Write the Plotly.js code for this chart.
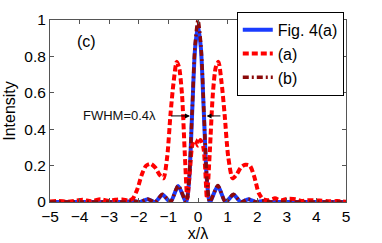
<!DOCTYPE html>
<html>
<head>
<meta charset="utf-8">
<script src="https://cdn.plot.ly/plotly-3.0.1.min.js"></script>
<style>html,body{margin:0;padding:0;background:#fff;}#chart{width:382px;height:243px;}</style>
</head>
<body>
<div id="chart"></div>
<script>
// Fig. 4(a) (blue solid) and (b) (dark red dash-dot) share sample positions
var xFig4a = [-5, -4, -3, -2.45, -2.2, -1.95, -1.7, -1.45, -1.2, -0.93, -0.67, -0.4, -0.3, -0.2, -0.1, 0, 0.1, 0.2, 0.3, 0.4, 0.67, 0.93, 1.2, 1.45, 1.7, 1.95, 2.2, 2.45, 3, 4, 5];
var yFig4a = [0, 0, 0, 0, 0.006, 0, 0.015, 0, 0.04, 0, 0.088, 0, 0.12, 0.48, 0.84, 0.97, 0.84, 0.48, 0.12, 0, 0.088, 0, 0.04, 0, 0.015, 0, 0.006, 0, 0, 0, 0];
var xB = [-5, -4, -3, -2.45, -2.2, -1.95, -1.7, -1.45, -1.2, -0.93, -0.67, -0.4, -0.3, -0.2, -0.1, 0, 0.1, 0.2, 0.3, 0.4, 0.67, 0.93, 1.2, 1.45, 1.7, 1.95, 2.2, 2.45, 3, 4, 5];
var yB = [0, 0, 0, 0, 0.006, 0, 0.016, 0, 0.042, 0, 0.09, 0, 0.13, 0.49, 0.86, 1.0, 0.86, 0.49, 0.13, 0, 0.09, 0, 0.042, 0, 0.016, 0, 0.006, 0, 0, 0, 0];
var xA = [-5, -4.7, -4.4, -4.1, -3.9, -3.6, -3.3, -3.0, -2.8, -2.55, -2.35, -2.2, -2.05, -1.9, -1.75, -1.6, -1.45, -1.3, -1.17, -1.04, -0.93, -0.83, -0.72, -0.64, -0.54, -0.45, -0.36, -0.27, -0.18, -0.08, 0, 0.08, 0.18, 0.24, 0.3, 0.4, 0.5, 0.6, 0.69, 0.8, 0.9, 1.02, 1.17, 1.3, 1.45, 1.6, 1.75, 1.9, 2.05, 2.2, 2.4, 2.6, 2.8, 3.0, 3.3, 3.5, 3.7, 4.1, 4.4, 4.7, 5];
var yA = [0.003, 0.006, 0.002, 0.008, 0.012, 0.004, 0.015, 0.006, 0.012, 0.014, 0.008, 0.02, 0.07, 0.15, 0.2, 0.21, 0.19, 0.15, 0.13, 0.25, 0.48, 0.65, 0.77, 0.74, 0.59, 0.28, 0.02, 0.18, 0.32, 0.34, 0.31, 0.34, 0.3, 0.19, 0.02, 0.28, 0.59, 0.74, 0.77, 0.65, 0.48, 0.25, 0.13, 0.15, 0.19, 0.205, 0.2, 0.14, 0.05, 0.015, 0.01, 0.02, 0.008, 0.017, 0.015, 0.006, 0.01, 0.008, 0.004, 0.005, 0.002];
var xTicks = [-5, -4, -3, -2, -1, 0, 1, 2, 3, 4, 5];
var yTicks = [0, 0.2, 0.4, 0.6, 0.8, 1];
var yTickText = ["0", "0.2", "0.4", "0.6", "0.8", "1"];
var names = ["Fig. 4(a)", "(a)", "(b)"];

var traces = [
  {x: xFig4a, y: yFig4a, name: names[0], mode: 'lines', line: {color: '#1a3cff', width: 4, shape: 'spline', smoothing: 0.7}},
  {x: xA, y: yA, name: names[1], mode: 'lines', line: {color: '#ff0000', width: 4, dash: '6px,3px', shape: 'spline', smoothing: 0.7}},
  {x: xB, y: yB, name: names[2], mode: 'lines', line: {color: '#8b0a0a', width: 3.5, dash: '6px,3px,2px,3px', shape: 'spline', smoothing: 0.7}}
];
var fam = 'Liberation Sans, Arial, sans-serif';
var axisCommon = {showline: true, mirror: 'ticks', linecolor: '#555', linewidth: 1, ticks: 'inside', ticklen: 4, tickcolor: '#555', showgrid: false, zeroline: false, tickfont: {family: fam, size: 15.5, color: '#000'}};
var layout = {
  width: 382, height: 243,
  margin: {l: 49.5, r: 36, t: 18, b: 41},
  paper_bgcolor: '#fff', plot_bgcolor: '#fff',
  showlegend: true,
  legend: {x: 0.631, y: 1.045, xanchor: 'left', yanchor: 'top', bgcolor: '#fff', bordercolor: '#000', borderwidth: 1, font: {family: fam, size: 16, color: '#000'}, itemwidth: 30, tracegroupgap: 0},
  xaxis: Object.assign({}, axisCommon, {range: [-5, 5], tickvals: xTicks, title: {text: 'x/λ', font: {family: fam, size: 16, color: '#000'}, standoff: 2}}),
  yaxis: Object.assign({}, axisCommon, {range: [0, 1], tickvals: yTicks, ticktext: yTickText, title: {text: 'Intensity', font: {family: fam, size: 16, color: '#000'}, standoff: 4}}),
  annotations: [
    {x: -3.77, y: 0.88, xref: 'x', yref: 'y', text: '(c)', showarrow: false, font: {family: fam, size: 16, color: '#000'}},
    {x: -2.64, y: 0.473, xref: 'x', yref: 'y', text: 'FWHM=0.4λ', showarrow: false, font: {family: fam, size: 13, color: '#111'}},
    {x: -0.27, y: 0.473, ax: -0.96, ay: 0.473, xref: 'x', yref: 'y', axref: 'x', ayref: 'y', text: '', showarrow: true, arrowhead: 2, arrowsize: 1, arrowwidth: 1, arrowcolor: '#000'},
    {x: 0.29, y: 0.473, ax: 0.81, ay: 0.473, xref: 'x', yref: 'y', axref: 'x', ayref: 'y', text: '', showarrow: true, arrowhead: 2, arrowsize: 1, arrowwidth: 1, arrowcolor: '#000'}
  ]
};
Plotly.newPlot('chart', traces, layout, {displayModeBar: false, staticPlot: true});
</script>
</body>
</html>
